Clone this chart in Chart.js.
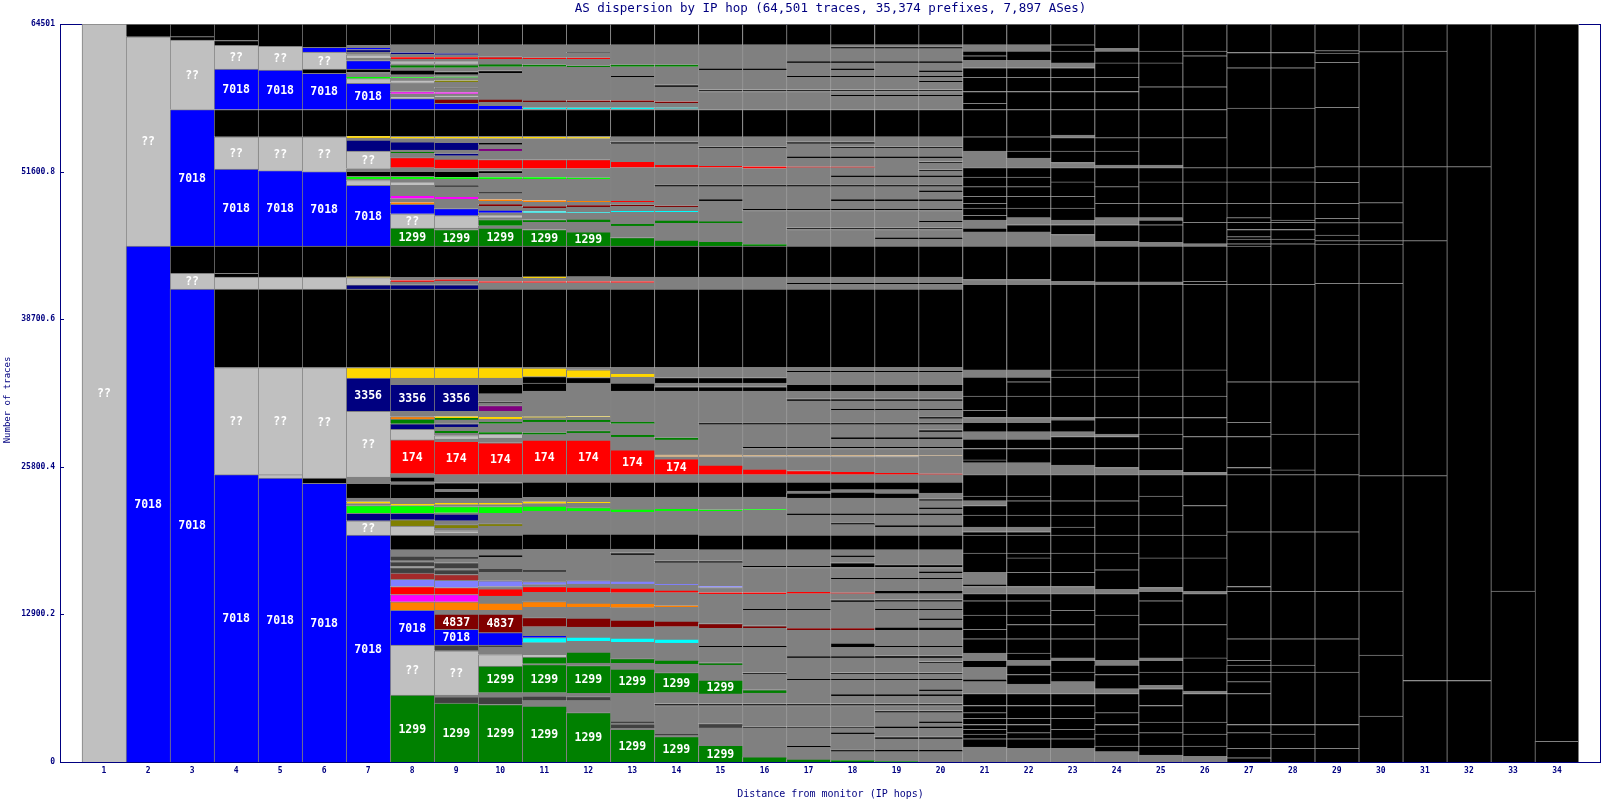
<!DOCTYPE html>
<html>
<head>
<meta charset="utf-8">
<title>AS dispersion by IP hop</title>
<script src="https://cdn.jsdelivr.net/npm/chart.js@4.4.1/dist/chart.umd.min.js"></script>
<style>
  html, body { margin: 0; padding: 0; background: #fff; }
  #wrap { width: 1605px; height: 800px; position: relative; }
</style>
</head>
<body>
<div id="wrap"><canvas id="hopChart"></canvas></div>
<script>
// categories: distance from monitor (IP hops)
const hopLabels = ['1','2','3','4','5','6','7','8','9','10','11','12','13','14','15','16','17',
  '18','19','20','21','22','23','24','25','26','27','28','29','30','31','32','33','34'];

// y axis ticks
const yTickValues = [0, 12900.2, 25800.4, 38700.6, 51600.8, 64501];
const yTickLabels = ['0', '12900.2', '25800.4', '38700.6', '51600.8', '64501'];

// per hop: [cumulative traces at top of segment, AS] from the bottom up
// '??' = unknown, 'o' = other AS, 'x' = trace ended
const hop1 = [[64501,'??']];
const hop2 = [[45082,'7018'],[63386,'??'],[64501,'x']];
const hop3 = [[41338,'7018'],[42711,'??'],[45082,'x'],[57021,'7018'],[63095,'??'],[63395,'x'],[64501,'x']];
const hop4 = [[25114,'7018'],[34474,'??'],[41338,'x'],[42378,'??'],[42711,'x'],[45082,'x'],[51821,'7018'],[54650,'??'],
  [57021,'x'],[60557,'7018'],[62637,'??'],[63054,'x'],[64501,'x']];
const hop5 = [[24823,'7018'],[25114,'??'],[34474,'??'],[41338,'x'],[42378,'??'],[45082,'x'],[51696,'7018'],[54650,'??'],
  [57021,'x'],[60474,'7018'],[62554,'??'],[64501,'x']];
const hop6 = [[24365,'7018'],[24823,'x'],[24990,'??'],[34474,'??'],[41338,'x'],[42378,'??'],[45082,'x'],[51613,'7018'],
  [54650,'??'],[57021,'x'],[60183,'7018'],[60557,'x'],[62055,'??'],[62471,'7018'],[64501,'x']];
const hop7 = [[19831,'7018'],[21079,'??'],[21744,'3356'],[22410,'lim'],[22576,'o'],[22742,'yel'],[23075,'o'],[24365,'x'],
  [24906,'o'],[30647,'??'],[33559,'3356'],[34474,'yel'],[41338,'x'],[41712,'3356'],[42336,'??'],[42420,'yel'],[45082,'x'],
  [50407,'7018'],[50823,'??'],[50948,'o'],[51198,'lim'],[51614,'x'],[51864,'o'],[53402,'??'],[54359,'3356'],[54525,'o'],
  [54691,'yel'],[57021,'x'],[59309,'7018'],[59725,'??'],[59933,'lim'],[60266,'o'],[60557,'x'],[61306,'7018'],[61514,'o'],
  [61805,'??'],[62055,'o'],[62263,'3356'],[62471,'7018'],[62637,'o'],[64501,'x']];
const hop8 = [[5853,'1299'],[10221,'??'],[13258,'7018'],[14007,'ora'],[14631,'mag'],[15338,'174'],[15962,'per'],[16503,'brn'],
  [17003,'dkg'],[17086,'o'],[17503,'dkg'],[17586,'o'],[18003,'dkg'],[18541,'o'],[19831,'x'],[20621,'??'],[21162,'oli'],
  [21744,'3356'],[22410,'lim'],[22618,'yel'],[23034,'o'],[24282,'x'],[24490,'o'],[24906,'x'],[25197,'o'],[28151,'174'],
  [29066,'??'],[29565,'3356'],[29981,'1299'],[30189,'ora'],[30647,'o'],[33018,'3356'],[33559,'o'],[34474,'yel'],[41338,'x'],
  [41712,'3356'],[41962,'o'],[42087,'174'],[42337,'o'],[45082,'x'],[46663,'1299'],[47911,'??'],[48743,'7018'],[48909,'ora'],
  [49242,'o'],[49533,'mag'],[50407,'o'],[50698,'??'],[50948,'o'],[51198,'lim'],[51614,'x'],[51947,'o'],[52821,'174'],
  [53195,'o'],[53320,'1299'],[53487,'o'],[54194,'3356'],[54485,'o'],[54691,'yel'],[57021,'x'],[57978,'7018'],[58186,'??'],
  [58394,'o'],[58602,'mag'],[59392,'o'],[59600,'??'],[59766,'o'],[59849,'lim'],[60057,'o'],[60473,'x'],[60681,'o'],
  [60931,'1299'],[61014,'o'],[61222,'??'],[61430,'o'],[61596,'174'],[61846,'o'],[62012,'3356'],[62678,'o'],[64501,'x']];
const hop9 = [[5146,'1299'],[5686,'dkg'],[5853,'o'],[9722,'??'],[10221,'dkg'],[11594,'7018'],[12925,'4837'],[13258,'o'],
  [14007,'ora'],[14631,'mag'],[15255,'174'],[15879,'per'],[16378,'brn'],[16794,'dkg'],[16919,'o'],[17418,'dkg'],[17750,'o'],
  [17916,'dkg'],[18541,'o'],[19831,'x'],[19997,'o'],[20205,'??'],[20413,'o'],[20746,'oli'],[21079,'o'],[21661,'3356'],
  [21786,'o'],[22326,'lim'],[22493,'o'],[22701,'yel'],[23075,'o'],[23657,'x'],[23823,'o'],[24406,'x'],[25114,'o'],
  [28026,'174'],[28234,'o'],[28526,'??'],[28734,'o'],[28983,'1299'],[29274,'o'],[29565,'3356'],[29898,'o'],[30064,'1299'],
  [30189,'yel'],[30647,'o'],[33018,'3356'],[33559,'o'],[34474,'yel'],[41338,'x'],[41712,'3356'],[42045,'o'],[42170,'174'],
  [42337,'o'],[45082,'x'],[46538,'1299'],[46663,'o'],[47750,'??'],[48368,'7018'],[49200,'o'],[49450,'mag'],[50282,'o'],
  [50407,'x'],[50948,'o'],[51115,'lim'],[51614,'x'],[51864,'o'],[52696,'174'],[52987,'o'],[53154,'3356'],[53487,'o'],
  [54152,'3356'],[54485,'o'],[54691,'yel'],[57021,'x'],[57562,'7018'],[57936,'4837'],[58103,'o'],[58228,'??'],[58394,'o'],
  [58519,'mag'],[58852,'o'],[58935,'dkg'],[59434,'o'],[59559,'oli'],[59809,'o'],[59892,'lim'],[60058,'o'],[60349,'x'],
  [60681,'o'],[60931,'1299'],[61014,'o'],[61222,'??'],[61430,'o'],[61596,'174'],[61805,'o'],[61930,'3356'],[62678,'o'],[64501,'x']];
const hop10 = [[5021,'1299'],[5686,'dkg'],[6061,'o'],[8391,'1299'],[9389,'??'],[10013,'o'],[10221,'dkg'],[11303,'7018'],
  [12925,'4837'],[13258,'o'],[13882,'ora'],[14507,'o'],[15131,'174'],[15338,'o'],[15837,'per'],[16586,'o'],[16919,'dkg'],
  [17900,'o'],[18100,'x'],[18541,'o'],[19831,'x'],[20621,'o'],[20829,'oli'],[21744,'o'],[22326,'lim'],[22493,'o'],
  [22701,'yel'],[23075,'o'],[24406,'x'],[25114,'o'],[27901,'174'],[28317,'o'],[28650,'??'],[28817,'1299'],[29565,'o'],
  [29773,'1299'],[29981,'o'],[30147,'yel'],[30647,'o'],[31146,'pur'],[31354,'o'],[31479,'dkg'],[32186,'o'],[33018,'x'],
  [33559,'o'],[34474,'yel'],[41338,'x'],[41878,'o'],[42003,'174'],[42337,'o'],[45082,'x'],[46663,'1299'],[46871,'o'],
  [47411,'1299'],[47578,'o'],[47744,'??'],[47994,'o'],[48244,'7018'],[48576,'o'],[48743,'4837'],[48993,'o'],[49159,'ora'],
  [49658,'o'],[49824,'dkg'],[50948,'o'],[51115,'lim'],[51448,'o'],[51698,'x'],[51864,'o'],[52654,'174'],[53403,'o'],
  [53569,'pur'],[53944,'o'],[54152,'x'],[54485,'o'],[54691,'yel'],[57021,'x'],[57396,'7018'],[57645,'o'],[57936,'4837'],
  [60182,'o'],[60432,'x'],[60765,'o'],[61014,'1299'],[61430,'o'],[61638,'174'],[62678,'o'],[64501,'x']];
const hop11 = [[4894,'1299'],[5358,'o'],[5768,'dkg'],[6057,'o'],[8504,'1299'],[8590,'o'],[9177,'1299'],[9352,'??'],
  [10427,'o'],[10864,'cya'],[11012,'7018'],[11825,'o'],[12612,'4837'],[13521,'o'],[14010,'ora'],[14832,'o'],[15321,'174'],
  [15496,'o'],[15758,'per'],[16606,'o'],[16781,'dkg'],[18590,'o'],[19927,'x'],[21938,'o'],[22374,'lim'],[22575,'o'],
  [22750,'yel'],[23135,'o'],[24472,'x'],[25114,'o'],[28143,'174'],[28606,'o'],[28781,'1299'],[29716,'o'],[29891,'1299'],
  [30092,'o'],[30179,'yel'],[32425,'o'],[33124,'x'],[33675,'x'],[34436,'yel'],[34474,'o'],[41338,'x'],[41878,'o'],
  [42003,'174'],[42295,'o'],[42420,'yel'],[45082,'x'],[46538,'1299'],[47162,'o'],[47411,'1299'],[47994,'o'],[48119,'cya'],
  [48410,'o'],[48576,'4837'],[48909,'o'],[49076,'ora'],[50948,'o'],[51115,'lim'],[51864,'o'],[52654,'174'],[54485,'o'],
  [54691,'yel'],[57021,'x'],[57063,'o'],[57188,'cya'],[57645,'o'],[57853,'4837'],[60765,'o'],[60931,'1299'],[61430,'o'],
  [61555,'174'],[62678,'o'],[64501,'x']];
const hop12 = [[4309,'1299'],[5358,'o'],[5707,'dkg'],[6004,'o'],[8417,'1299'],[8653,'o'],[9614,'1299'],[10549,'o'],
  [10925,'cya'],[11799,'o'],[12586,'4837'],[13521,'o'],[13897,'ora'],[14832,'o'],[15295,'174'],[15557,'o'],[15846,'per'],
  [18616,'o'],[19927,'x'],[21911,'o'],[22226,'lim'],[22611,'o'],[22724,'yel'],[23161,'o'],[24472,'x'],[25114,'o'],
  [28143,'174'],[28755,'o'],[28956,'1299'],[29716,'o'],[29891,'1299'],[30127,'o'],[30197,'yel'],[33124,'o'],[33600,'x'],
  [34285,'yel'],[34474,'o'],[41338,'x'],[41878,'o'],[42003,'174'],[42420,'o'],[45082,'x'],[46330,'1299'],[47162,'o'],
  [47453,'1299'],[47994,'o'],[48077,'cya'],[48493,'o'],[48660,'4837'],[48909,'o'],[49034,'ora'],[50948,'o'],[51074,'lim'],
  [51864,'o'],[52654,'174'],[54485,'o'],[54609,'yel'],[54691,'o'],[57021,'x'],[57063,'o'],[57188,'cya'],[57645,'o'],
  [57811,'4837'],[60723,'o'],[60848,'1299'],[61430,'o'],[61555,'174'],[61930,'o'],[62013,'x'],[62678,'o'],[64501,'x']];
const hop13 = [[2858,'1299'],[2945,'o'],[3321,'dkg'],[3382,'o'],[3583,'dkg'],[6004,'o'],[8128,'1299'],[8626,'o'],
  [9028,'1299'],[10462,'o'],[10838,'cya'],[11799,'o'],[12411,'4837'],[13486,'o'],[13870,'ora'],[14797,'o'],[15208,'174'],
  [15557,'o'],[15819,'per'],[18100,'o'],[18280,'x'],[18616,'o'],[19927,'x'],[21850,'o'],[22112,'lim'],[23135,'o'],
  [24472,'x'],[25114,'o'],[27278,'174'],[28400,'o'],[28578,'1299'],[29566,'o'],[29716,'1299'],[32425,'o'],[33124,'x'],
  [33642,'o'],[33974,'yel'],[34474,'o'],[41338,'x'],[41878,'o'],[42003,'174'],[42378,'o'],[45082,'x'],[45833,'1299'],
  [46830,'o'],[47080,'1299'],[48035,'o'],[48160,'cya'],[48576,'o'],[48701,'4837'],[48909,'o'],[49034,'174'],[51949,'o'],
  [52491,'174'],[54027,'o'],[54200,'x'],[54650,'o'],[57021,'x'],[57063,'o'],[57188,'cya'],[57650,'o'],[57820,'4837'],
  [59850,'o'],[60020,'x'],[60765,'o'],[60931,'1299'],[62678,'o'],[64501,'x']];
const hop14 = [[2212,'1299'],[2299,'o'],[2447,'dkg'],[4938,'o'],[5110,'x'],[6057,'o'],[7805,'1299'],[8565,'o'],
  [8915,'1299'],[10401,'o'],[10750,'cya'],[11825,'o'],[12323,'4837'],[13521,'o'],[13661,'ora'],[14797,'o'],[15033,'174'],
  [15470,'o'],[15557,'per'],[17418,'o'],[17590,'x'],[18590,'o'],[19927,'x'],[21938,'o'],[22112,'lim'],[23161,'o'],
  [24472,'x'],[25114,'o'],[26491,'174'],[26649,'o'],[26911,'tan'],[28150,'o'],[28330,'1299'],[32425,'o'],[32800,'x'],
  [33124,'o'],[33600,'x'],[34474,'o'],[41338,'x'],[42378,'o'],[45082,'x'],[45624,'1299'],[47079,'o'],[47370,'1299'],
  [48035,'o'],[48160,'cya'],[48493,'o'],[48618,'4837'],[50282,'o'],[50460,'x'],[51949,'o'],[52246,'174'],[54027,'o'],
  [54200,'x'],[54650,'o'],[57021,'x'],[57100,'o'],[57190,'cya'],[57560,'o'],[57730,'4837'],[59018,'o'],[59190,'x'],
  [60765,'o'],[60930,'1299'],[62678,'o'],[64501,'x']];
const hop15 = [[1450,'1299'],[2980,'o'],[3356,'dkg'],[4938,'o'],[5110,'x'],[5950,'o'],[7150,'1299'],[8478,'o'],
  [8678,'1299'],[10013,'o'],[10190,'x'],[11677,'o'],[12096,'4837'],[14683,'o'],[14806,'174'],[15250,'o'],[15350,'per'],
  [17418,'o'],[17590,'x'],[18547,'o'],[19840,'x'],[21900,'o'],[22050,'lim'],[23161,'o'],[24472,'x'],[25114,'o'],
  [25949,'174'],[26649,'o'],[26911,'tan'],[29482,'o'],[29660,'x'],[32425,'o'],[32800,'x'],[33124,'o'],[33600,'x'],
  [34474,'o'],[41338,'x'],[42378,'o'],[45082,'x'],[45500,'1299'],[47079,'o'],[47290,'1299'],[49034,'o'],[49210,'x'],
  [50282,'o'],[50460,'x'],[51950,'o'],[52080,'174'],[53611,'o'],[53790,'x'],[54650,'o'],[57021,'x'],[58602,'o'],
  [58780,'x'],[60474,'o'],[60650,'x'],[62678,'o'],[64501,'x']];
const hop16 = [[446,'1299'],[2940,'o'],[3100,'dkg'],[4938,'o'],[5110,'x'],[6022,'o'],[6310,'1299'],[7642,'o'],
  [7820,'x'],[10013,'o'],[10190,'x'],[11677,'o'],[11900,'4837'],[13258,'o'],[13430,'x'],[14683,'o'],[14806,'174'],
  [17002,'o'],[17180,'x'],[18547,'o'],[19840,'x'],[21998,'o'],[22080,'lim'],[23161,'o'],[24472,'x'],[25114,'o'],
  [25600,'174'],[26700,'o'],[26830,'tan'],[27402,'o'],[27580,'x'],[29482,'o'],[29660,'x'],[32425,'o'],[32800,'x'],
  [33124,'o'],[33600,'x'],[34474,'o'],[41338,'x'],[42378,'o'],[45082,'x'],[45250,'1299'],[48202,'o'],[48380,'x'],
  [50282,'o'],[50460,'x'],[51864,'o'],[52040,'174'],[53611,'o'],[53790,'x'],[54650,'o'],[57021,'x'],[58602,'o'],
  [58780,'x'],[60474,'o'],[60650,'x'],[62678,'o'],[64501,'x']];
const hop17 = [[250,'1299'],[1277,'o'],[1450,'x'],[2941,'o'],[3100,'dkg'],[4938,'o'],[5110,'x'],[7143,'o'],[7320,'x'],
  [9098,'o'],[9270,'x'],[11511,'o'],[11700,'4837'],[13258,'o'],[13430,'x'],[14715,'o'],[14850,'174'],[17002,'o'],
  [17180,'x'],[18541,'o'],[19831,'x'],[21578,'o'],[21750,'x'],[23075,'o'],[23500,'x'],[23680,'o'],[24472,'x'],
  [25114,'o'],[25480,'174'],[26700,'o'],[26830,'tan'],[27402,'o'],[27580,'x'],[29482,'o'],[29660,'x'],[31562,'o'],
  [31740,'x'],[32394,'o'],[33018,'x'],[34058,'o'],[34230,'x'],[34474,'o'],[41338,'x'],[41754,'o'],[41930,'x'],
  [42378,'o'],[45082,'x'],[46538,'o'],[46710,'x'],[48202,'o'],[48380,'x'],[50282,'o'],[50460,'x'],[51947,'o'],
  [52030,'174'],[52779,'o'],[52950,'x'],[54027,'o'],[54200,'x'],[54650,'o'],[57021,'x'],[58602,'o'],[58780,'x'],
  [59850,'o'],[60020,'x'],[61098,'o'],[61270,'x'],[62678,'o'],[64501,'x']];
const hop18 = [[150,'1299'],[903,'o'],[1080,'x'],[2442,'o'],[2620,'x'],[2941,'o'],[3100,'dkg'],[4938,'o'],[5110,'x'],
  [5770,'o'],[5950,'x'],[7143,'o'],[7320,'x'],[7642,'o'],[7820,'x'],[9098,'o'],[9270,'x'],[10013,'o'],[10400,'x'],
  [11511,'o'],[11680,'4837'],[14007,'o'],[14180,'x'],[14715,'o'],[14800,'174'],[15962,'o'],[16140,'x'],[17002,'o'],
  [17418,'x'],[17917,'o'],[18090,'x'],[18541,'o'],[19831,'x'],[20746,'o'],[20920,'x'],[21578,'o'],[21750,'x'],
  [23075,'o'],[23600,'x'],[23800,'o'],[24472,'x'],[25114,'o'],[25400,'174'],[26700,'o'],[26830,'tan'],[27402,'o'],
  [27580,'x'],[28234,'o'],[28410,'x'],[29482,'o'],[29660,'x'],[30730,'o'],[30900,'x'],[31562,'o'],[31740,'x'],
  [32394,'o'],[33018,'x'],[34058,'o'],[34230,'x'],[34474,'o'],[41338,'x'],[41754,'o'],[41930,'x'],[42378,'o'],
  [45082,'x'],[46538,'o'],[46710,'x'],[48202,'o'],[48380,'x'],[49034,'o'],[49210,'x'],[50282,'o'],[50460,'x'],
  [51115,'o'],[51290,'x'],[51947,'o'],[52030,'174'],[52779,'o'],[52950,'x'],[53611,'o'],[53790,'x'],[54027,'o'],
  [54200,'x'],[54650,'o'],[57021,'x'],[58186,'o'],[58360,'x'],[58602,'o'],[58780,'x'],[59850,'o'],[60020,'x'],
  [60474,'o'],[60650,'x'],[61098,'o'],[61270,'x'],[62346,'o'],[62520,'x'],[62678,'o'],[64501,'x']];
const hop19 = [[60,'1299'],[903,'o'],[1100,'x'],[2026,'o'],[2200,'x'],[2941,'o'],[3150,'x'],[4314,'o'],[4500,'x'],
  [4938,'o'],[5110,'x'],[5770,'o'],[5950,'x'],[7143,'o'],[7320,'x'],[7642,'o'],[7820,'x'],[9098,'o'],[9300,'x'],
  [10013,'o'],[10190,'x'],[11511,'o'],[11800,'x'],[13258,'o'],[13430,'x'],[14007,'o'],[14200,'x'],[14715,'o'],
  [15000,'x'],[15962,'o'],[16140,'x'],[17002,'o'],[17250,'x'],[18541,'o'],[19831,'x'],[20538,'o'],[20720,'x'],
  [21578,'o'],[21760,'x'],[23075,'o'],[23500,'x'],[23800,'o'],[24472,'x'],[25114,'o'],[25250,'174'],[26700,'o'],
  [26800,'tan'],[27402,'o'],[27580,'x'],[28234,'o'],[28410,'x'],[29482,'o'],[29660,'x'],[30730,'o'],[30900,'x'],
  [31562,'o'],[31740,'x'],[32394,'o'],[33018,'x'],[34058,'o'],[34230,'x'],[34474,'o'],[41338,'x'],[41754,'o'],
  [41930,'x'],[42378,'o'],[45082,'x'],[45706,'o'],[45880,'x'],[46538,'o'],[46710,'x'],[48202,'o'],[48380,'x'],
  [49034,'o'],[49210,'x'],[50282,'o'],[50460,'x'],[51115,'o'],[51290,'x'],[52779,'o'],[52950,'x'],[53611,'o'],
  [53790,'x'],[54650,'o'],[57021,'x'],[58186,'o'],[58360,'x'],[58602,'o'],[58780,'x'],[59850,'o'],[60020,'x'],
  [61098,'o'],[61270,'x'],[62346,'o'],[62520,'x'],[62678,'o'],[64501,'x']];
const hop20 = [[903,'o'],[1100,'x'],[2026,'o'],[2200,'x'],[2941,'o'],[3150,'x'],[3400,'o'],[3580,'x'],[4314,'o'],
  [4500,'x'],[4938,'o'],[5110,'x'],[5770,'o'],[5950,'x'],[6200,'o'],[6380,'x'],[7143,'o'],[7320,'x'],[7642,'o'],
  [7820,'x'],[8600,'o'],[8780,'x'],[9098,'o'],[9300,'x'],[10013,'o'],[10190,'x'],[11511,'o'],[11800,'x'],[12400,'o'],
  [12580,'x'],[13258,'o'],[13430,'x'],[14007,'o'],[14200,'x'],[14715,'o'],[15000,'x'],[15962,'o'],[16140,'x'],
  [16500,'o'],[16680,'x'],[17002,'o'],[17250,'x'],[18541,'o'],[19831,'x'],[20538,'o'],[20720,'x'],[21578,'o'],
  [21760,'x'],[22100,'o'],[22280,'x'],[22826,'o'],[23000,'x'],[23500,'o'],[24472,'x'],[25114,'o'],[25200,'174'],
  [26750,'o'],[26800,'tan'],[27402,'o'],[27580,'x'],[28234,'o'],[28410,'x'],[28858,'o'],[29030,'x'],[29482,'o'],
  [29660,'x'],[30000,'o'],[30180,'x'],[30730,'o'],[30900,'x'],[31562,'o'],[31740,'x'],[32394,'o'],[33018,'x'],
  [34058,'o'],[34230,'x'],[34474,'o'],[41338,'x'],[41754,'o'],[41930,'x'],[42378,'o'],[45082,'x'],[45706,'o'],
  [45880,'x'],[46538,'o'],[46710,'x'],[47162,'o'],[47340,'x'],[48202,'o'],[48380,'x'],[49034,'o'],[49210,'x'],
  [49800,'o'],[49980,'x'],[50282,'o'],[50460,'x'],[51115,'o'],[51290,'x'],[51600,'o'],[51780,'x'],[52300,'o'],
  [52480,'x'],[52779,'o'],[52950,'x'],[53611,'o'],[53790,'x'],[54650,'o'],[57021,'x'],[58186,'o'],[58360,'x'],
  [58602,'o'],[58780,'x'],[59400,'o'],[59580,'x'],[59850,'o'],[60020,'x'],[60300,'o'],[60480,'x'],[61098,'o'],
  [61270,'x'],[62346,'o'],[62520,'x'],[62678,'o'],[64501,'x']];
const hop21 = [[1300,'o'],[2026,'x'],[2442,'x'],[2858,'x'],[3274,'x'],[3815,'x'],[4314,'x'],[4938,'x'],[5978,'x'],
  [7018,'o'],[7250,'x'],[8266,'o'],[8890,'x'],[9514,'o'],[10763,'x'],[11600,'x'],[12843,'x'],[14091,'x'],[14715,'x'],
  [15338,'o'],[15546,'x'],[16586,'o'],[18250,'x'],[19831,'x'],[20122,'x'],[20538,'o'],[21578,'x'],[22410,'x'],
  [22826,'o'],[23242,'x'],[25114,'x'],[26154,'o'],[26400,'x'],[27402,'x'],[28234,'x'],[28858,'o'],[29690,'x'],
  [30106,'o'],[30730,'x'],[31978,'x'],[33642,'x'],[34266,'o'],[41754,'x'],[42170,'o'],[45082,'x'],[46330,'o'],
  [46663,'x'],[47370,'o'],[47786,'x'],[48410,'x'],[48826,'x'],[49450,'x'],[50282,'x'],[51115,'x'],[51947,'x'],
  [52779,'o'],[53403,'o'],[54650,'x'],[57021,'x'],[57562,'x'],[58602,'x'],[59850,'x'],[60681,'x'],[61306,'o'],
  [61722,'x'],[62137,'x'],[62678,'o'],[64501,'x']];
const hop22 = [[1194,'o'],[2026,'x'],[2566,'x'],[3274,'x'],[3815,'x'],[4938,'x'],[5978,'x'],[6810,'o'],[7642,'x'],
  [8474,'x'],[8890,'o'],[9514,'x'],[10763,'x'],[12011,'x'],[12843,'x'],[14091,'x'],[14715,'x'],[15338,'o'],[16586,'x'],
  [17834,'x'],[18250,'x'],[19831,'x'],[20122,'x'],[20538,'o'],[21578,'x'],[22826,'x'],[23242,'x'],[25114,'x'],
  [26154,'o'],[27402,'x'],[28234,'x'],[28858,'o'],[29690,'x'],[30106,'o'],[31978,'x'],[33226,'x'],[33642,'x'],
  [34266,'o'],[41754,'x'],[42170,'o'],[45082,'x'],[46330,'o'],[46954,'x'],[47578,'o'],[48410,'x'],[49450,'x'],
  [50282,'x'],[51115,'x'],[51947,'x'],[52779,'o'],[53403,'x'],[54650,'x'],[57021,'x'],[58602,'x'],[59850,'x'],
  [60681,'x'],[61306,'o'],[62137,'x'],[62678,'o'],[64501,'x']];
const hop23 = [[1194,'o'],[2026,'x'],[2858,'x'],[3815,'x'],[4938,'x'],[5978,'x'],[7018,'o'],[7850,'x'],[8890,'x'],
  [9098,'o'],[10763,'x'],[12011,'x'],[13258,'x'],[14715,'x'],[15338,'o'],[16586,'x'],[18250,'x'],[19831,'x'],
  [20538,'x'],[21578,'x'],[22826,'x'],[25114,'x'],[25946,'o'],[27402,'x'],[28442,'x'],[28858,'o'],[29898,'x'],
  [30106,'o'],[31978,'x'],[33642,'x'],[34266,'x'],[41754,'x'],[42000,'o'],[45082,'x'],[46100,'o'],[46954,'x'],
  [47370,'o'],[48410,'x'],[49450,'x'],[50699,'x'],[51947,'x'],[52400,'o'],[53403,'x'],[54567,'x'],[54800,'o'],
  [57021,'x'],[58602,'x'],[59850,'x'],[60681,'x'],[61100,'o'],[62137,'x'],[62678,'x'],[64501,'x']];
const hop24 = [[900,'o'],[1402,'x'],[2442,'x'],[3274,'x'],[4314,'x'],[5978,'x'],[6400,'o'],[7642,'x'],[8474,'x'],
  [8890,'o'],[10763,'x'],[12843,'x'],[14715,'x'],[15100,'o'],[16794,'x'],[18250,'x'],[19831,'x'],[21578,'x'],
  [22826,'x'],[25114,'x'],[25738,'o'],[27402,'x'],[28442,'x'],[28650,'o'],[30106,'x'],[31978,'x'],[33642,'x'],
  [34266,'x'],[41754,'x'],[41962,'o'],[45082,'x'],[45498,'o'],[46954,'x'],[47578,'o'],[48826,'x'],[50282,'x'],
  [51947,'x'],[52163,'o'],[53403,'x'],[54567,'x'],[57021,'x'],[58602,'x'],[59850,'x'],[61098,'x'],[62137,'x'],
  [62350,'o'],[64501,'x']];
const hop25 = [[600,'o'],[1402,'x'],[2566,'x'],[3482,'x'],[4938,'x'],[6400,'x'],[6700,'o'],[7850,'x'],[8890,'x'],
  [9100,'o'],[12011,'x'],[14091,'x'],[14922,'x'],[15250,'o'],[17834,'x'],[19831,'x'],[21578,'x'],[23242,'x'],
  [25114,'x'],[25500,'o'],[27402,'x'],[28650,'x'],[30106,'x'],[31978,'x'],[34266,'x'],[41754,'x'],[41962,'o'],
  [45082,'x'],[45400,'o'],[46954,'x'],[47370,'x'],[47578,'o'],[48826,'x'],[50699,'x'],[51947,'x'],[52163,'o'],
  [54567,'x'],[57021,'x'],[59018,'x'],[61098,'x'],[62137,'x'],[64501,'x']];
const hop26 = [[500,'o'],[1402,'x'],[2442,'x'],[3482,'x'],[5978,'x'],[6200,'o'],[7850,'x'],[9098,'x'],[12011,'x'],
  [14715,'x'],[14922,'o'],[17834,'x'],[19831,'x'],[22410,'x'],[25114,'x'],[25300,'o'],[28442,'x'],[30106,'x'],
  [31978,'x'],[34266,'x'],[41754,'x'],[42000,'x'],[45082,'x'],[45290,'o'],[47162,'x'],[48826,'x'],[50699,'x'],
  [51947,'x'],[54567,'x'],[57021,'x'],[59018,'x'],[61722,'x'],[62137,'x'],[64501,'x']];
const hop27 = [[362,'x'],[1194,'x'],[2566,'x'],[3274,'x'],[5978,'x'],[7018,'x'],[7850,'x'],[8474,'x'],[8890,'x'],
  [10763,'x'],[14922,'x'],[15338,'x'],[20122,'x'],[25114,'x'],[25738,'x'],[28442,'x'],[29690,'x'],[33226,'x'],
  [41754,'x'],[45082,'x'],[45290,'x'],[45706,'x'],[45914,'x'],[46538,'x'],[47162,'x'],[47578,'x'],[48826,'x'],
  [50699,'x'],[51947,'x'],[57146,'x'],[60681,'x'],[62013,'x'],[64501,'x']];
const hop28 = [[1194,'x'],[2442,'x'],[3274,'x'],[7850,'x'],[8474,'x'],[10763,'x'],[14922,'x'],[20122,'x'],[25114,'x'],
  [25530,'x'],[28650,'x'],[33226,'x'],[41754,'x'],[45290,'x'],[45706,'x'],[46538,'x'],[47162,'x'],[47370,'x'],
  [48826,'x'],[50699,'x'],[51947,'x'],[57146,'x'],[60681,'x'],[62013,'x'],[64501,'x']];
const hop29 = [[1194,'x'],[3274,'x'],[7850,'x'],[10763,'x'],[14922,'x'],[20122,'x'],[25114,'x'],[28650,'x'],
  [33226,'x'],[41838,'x'],[45273,'x'],[45563,'x'],[46060,'x'],[47135,'x'],[47520,'x'],[48831,'x'],[50665,'x'],
  [52030,'x'],[57220,'x'],[61152,'x'],[61970,'x'],[62170,'x'],[64501,'x']];
const hop30 = [[4020,'x'],[9352,'x'],[14945,'x'],[25023,'x'],[41838,'x'],[45273,'x'],[45563,'x'],[47135,'x'],
  [48884,'x'],[52030,'x'],[62080,'x'],[64501,'x']];
const hop31 = [[7123,'x'],[25023,'x'],[45563,'x'],[52030,'x'],[62141,'x'],[64501,'x']];
const hop32 = [[7123,'x'],[52030,'x'],[64501,'x']];
const hop33 = [[14945,'x'],[64501,'x']];
const hop34 = [[1800,'x'],[64501,'x']];

const hops = [hop1, hop2, hop3, hop4, hop5, hop6, hop7, hop8, hop9, hop10, hop11, hop12, hop13, hop14, hop15, hop16,
  hop17, hop18, hop19, hop20, hop21, hop22, hop23, hop24, hop25, hop26, hop27, hop28, hop29, hop30, hop31, hop32,
  hop33, hop34];

const asColors = {
  '??': '#c0c0c0', '7018': '#0000ff', '1299': '#008000', '174': '#ff0000', '3356': '#000080', '4837': '#800000',
  o: '#808080', x: '#000000', yel: '#ffd700', lim: '#00ff00', mag: '#ff00ff', ora: '#ff8000', per: '#8080ff',
  brn: '#a52a2a', dkg: '#404040', cya: '#00ffff', oli: '#808000', pur: '#800080', tan: '#d2b48c'
};
const labelledAs = ['??', '7018', '1299', '174', '3356', '4837'];
const navy = '#000080';

// one dataset per segment level; a blank slot either side of the hops
const maxSegs = Math.max(...hops.map(h => h.length));
const datasets = [];
for (let k = 0; k < maxSegs; k++) {
  const data = [null], colors = ['#000'], codes = [null];
  hops.forEach(h => {
    const seg = h[k];
    if (seg) {
      const below = k > 0 ? h[k - 1][0] : 0;
      data.push(seg[0] - below);
      colors.push(asColors[seg[1]]);
      codes.push(seg[1]);
    } else {
      data.push(null); colors.push('#000'); codes.push(null);
    }
  });
  data.push(null); colors.push('#000'); codes.push(null);
  datasets.push({
    data: data,
    backgroundColor: colors,
    asCodes: codes,
    borderColor: '#808080',
    borderSkipped: false,
    borderWidth: ctx => {
      const code = ctx.dataset.asCodes[ctx.dataIndex];
      const v = ctx.dataset.data[ctx.dataIndex] || 0;
      const thin = code !== 'x' && code !== 'o' && v < 200;
      return { top: thin ? 0 : 1, left: 1, right: 0, bottom: 0 };
    },
    barPercentage: 1,
    categoryPercentage: 1
  });
}

const segmentLabels = {
  id: 'segmentLabels',
  afterDatasetsDraw(chart) {
    const ctx = chart.ctx;
    ctx.save();
    ctx.font = 'bold 11.5px "DejaVu Sans Mono"';
    ctx.fillStyle = '#ffffff';
    ctx.textAlign = 'center';
    ctx.textBaseline = 'middle';
    chart.data.datasets.forEach((ds, i) => {
      chart.getDatasetMeta(i).data.forEach((bar, j) => {
        const code = ds.asCodes[j];
        if (!labelledAs.includes(code)) return;
        const h = Math.abs(bar.base - bar.y);
        if (h < 13) return;
        ctx.fillText(code, bar.x, (bar.y + bar.base) / 2 + 1);
      });
    });
    ctx.restore();
  }
};

const frameAndText = {
  id: 'frameAndText',
  beforeDatasetsDraw(chart) {
    const { ctx, chartArea: a } = chart;
    ctx.save();
    ctx.strokeStyle = navy;
    ctx.lineWidth = 1;
    ctx.strokeRect(a.left + 0.5, a.top + 0.5, a.right - a.left - 1, a.bottom - a.top);
    ctx.restore();
  },
  afterDatasetsDraw(chart) {
    const { ctx, chartArea: a, scales } = chart;
    ctx.save();
    // right edge of the last bar
    const step = scales.x.getPixelForValue(1) - scales.x.getPixelForValue(0);
    const xr = Math.round(scales.x.getPixelForValue(hopLabels.length) + step / 2) - 0.5;
    ctx.strokeStyle = '#808080';
    ctx.beginPath(); ctx.moveTo(xr, a.top); ctx.lineTo(xr, a.bottom); ctx.stroke();
    // y tick marks, inside the frame
    ctx.strokeStyle = navy;
    yTickValues.forEach(v => {
      const y = Math.round(scales.y.getPixelForValue(v)) + 0.5;
      ctx.beginPath(); ctx.moveTo(a.left, y); ctx.lineTo(a.left + 4, y); ctx.stroke();
    });
    ctx.restore();
  },
  afterDraw(chart) {
    const { ctx, chartArea: a } = chart;
    ctx.save();
    ctx.fillStyle = navy;
    ctx.textAlign = 'center';
    ctx.textBaseline = 'middle';
    ctx.font = '12.5px "DejaVu Sans Mono"';
    ctx.fillText('AS dispersion by IP hop (64,501 traces, 35,374 prefixes, 7,897 ASes)', (a.left + a.right) / 2, 9);
    ctx.font = '10px "DejaVu Sans Mono"';
    ctx.fillText('Distance from monitor (IP hops)', (a.left + a.right) / 2, 794);
    ctx.translate(8, 400);
    ctx.rotate(-Math.PI / 2);
    ctx.font = '9px "DejaVu Sans Mono"';
    ctx.fillText('Number of traces', 0, 0);
    ctx.restore();
  }
};

Chart.defaults.font.family = '"DejaVu Sans Mono"';

new Chart(document.getElementById('hopChart'), {
  type: 'bar',
  data: { labels: [''].concat(hopLabels, ['']), datasets: datasets },
  options: {
    responsive: true,
    maintainAspectRatio: false,
    animation: false,
    layout: { padding: { top: 24, right: 2, left: 0, bottom: 0 } },
    plugins: { legend: { display: false }, tooltip: { enabled: false }, title: { display: false } },
    scales: {
      x: {
        stacked: true,
        offset: false,
        grid: { display: false, drawTicks: false },
        border: { display: false },
        ticks: { color: navy, font: { size: 8, weight: 'bold' }, padding: 4, autoSkip: false, maxRotation: 0 },
        afterFit: s => { s.height = 38; }
      },
      y: {
        stacked: true,
        min: 0,
        max: 64501,
        grid: { display: false, drawTicks: false },
        border: { display: false },
        afterBuildTicks: s => { s.ticks = yTickValues.map(v => ({ value: v })); },
        ticks: { color: navy, font: { size: 8, weight: 'bold' }, padding: 5, callback: (v, i) => yTickLabels[i] },
        afterFit: s => { s.width = 60; }
      }
    }
  },
  plugins: [segmentLabels, frameAndText]
});
</script>
</body>
</html>
